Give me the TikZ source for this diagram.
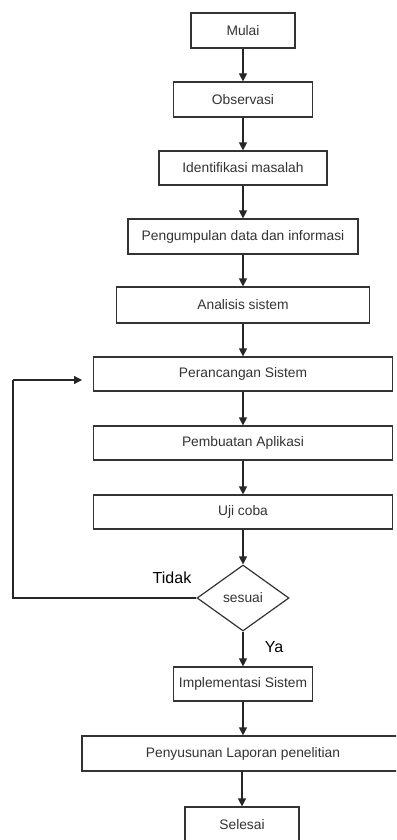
\documentclass[tikz,border=0pt]{standalone}
\usepackage{fontspec}
\setmainfont{Liberation Sans}
\usetikzlibrary{shapes.geometric,arrows.meta}
\definecolor{boxline}{HTML}{333333}
\definecolor{txt}{HTML}{333333}
\tikzset{
  stepbox/.style={draw=boxline, line width=1.2pt, rectangle, inner sep=0pt, text=txt, font=\fontsize{13.8}{15}\selectfont},
  decision/.style={draw=boxline, line width=1.2pt, diamond, inner sep=0pt, minimum width=92pt, minimum height=66pt, text=txt, font=\fontsize{13.8}{15}\selectfont},
  arr/.style={draw=black!85, line width=1.2pt, -{Triangle[width=8pt,length=8pt]}},
  conn/.style={draw=black!85, line width=1.2pt},
  lbl/.style={font=\fontsize{16}{18}\selectfont, text=black}
}
\begin{document}
\begin{tikzpicture}[x=1pt,y=-1pt]
\useasboundingbox (0,0) rectangle (396,840);
\clip (0,0) rectangle (396,840);
\fill[white] (0,0) rectangle (396,840);
\node[stepbox, minimum width=104pt, minimum height=35pt] (mulai) at (243,30.5) {Mulai};
\node[stepbox, minimum width=139pt, minimum height=35pt] (obs) at (243,99.5) {Observasi};
\node[stepbox, minimum width=168pt, minimum height=34pt] (ident) at (243,168) {Identifikasi masalah};
\node[stepbox, minimum width=230pt, minimum height=35pt] (peng) at (243,236.5) {Pengumpulan data dan informasi};
\node[stepbox, minimum width=253pt, minimum height=36pt] (anal) at (243,305) {Analisis sistem};
\node[stepbox, minimum width=299pt, minimum height=34pt] (peran) at (243,374) {Perancangan Sistem};
\node[stepbox, minimum width=299pt, minimum height=34pt] (pemb) at (243,443) {Pembuatan Aplikasi};
\node[stepbox, minimum width=299pt, minimum height=34pt] (uji) at (243,512) {Uji coba};
\node[decision] (ses) at (243,598) {sesuai};
\node[stepbox, minimum width=139pt, minimum height=34pt] (impl) at (243,684) {Implementasi Sistem};
\node[stepbox, minimum width=322pt, minimum height=35pt] (peny) at (243,753.5) {Penyusunan Laporan penelitian};
\node[stepbox, minimum width=114pt, minimum height=35pt] (sel) at (242,824.5) {Selesai};
\node[lbl] (tidak) at (172,578) {Tidak};
\node[lbl] (ya) at (274,647) {Ya};
\coordinate (loopc) at (13,598);
\coordinate (loopt) at (13,380);
\coordinate (loopend) at (82,380);
\draw[arr] (mulai.south) -- (mulai.south |- obs.north);
\draw[arr] (obs.south) -- (obs.south |- ident.north);
\draw[arr] (ident.south) -- (ident.south |- peng.north);
\draw[arr] (peng.south) -- (peng.south |- anal.north);
\draw[arr] (anal.south) -- (anal.south |- peran.north);
\draw[arr] (peran.south) -- (peran.south |- pemb.north);
\draw[arr] (pemb.south) -- (pemb.south |- uji.north);
\draw[arr] (uji.south) -- (uji.south |- ses.north);
\draw[arr] (ses.south) -- (ses.south |- impl.north);
\draw[arr] (impl.south) -- (impl.south |- peny.north);
\draw[arr] (peny.south) -- (peny.south -| sel.north) -- (sel.north);
\draw[conn] (ses.west) -- (loopc) -- (loopt);
\draw[arr] (loopt) -- (loopend);
\end{tikzpicture}
\end{document}
